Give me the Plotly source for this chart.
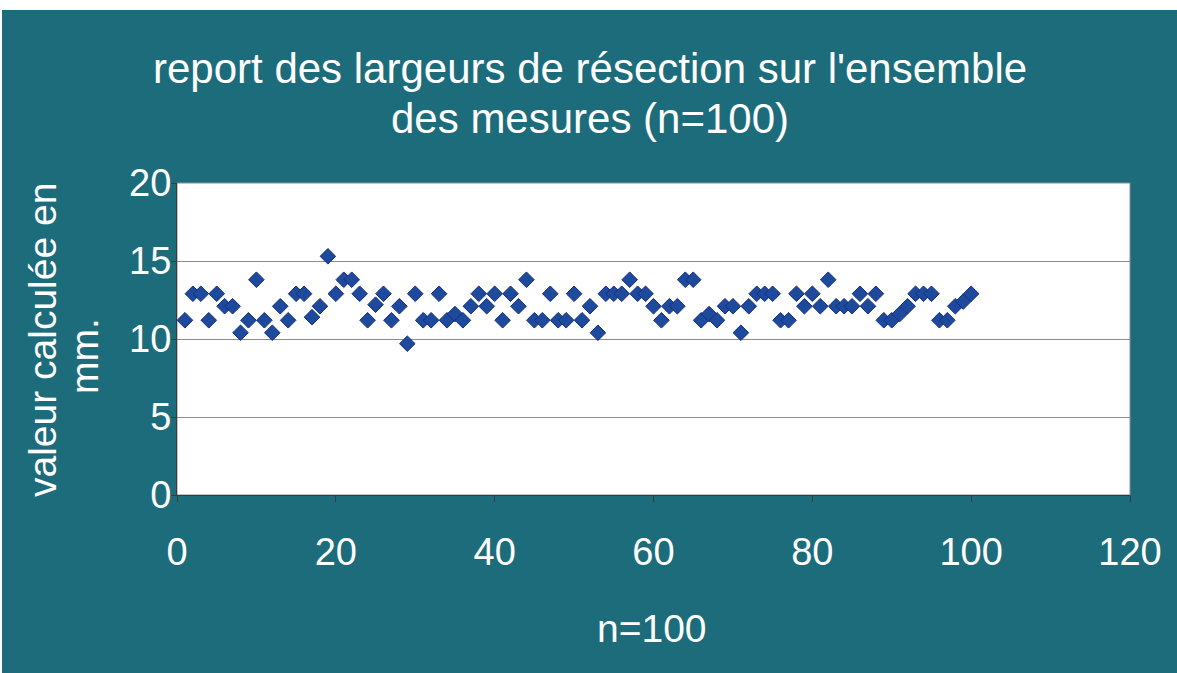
import plotly.graph_objects as go

# Measurement index and computed resection width (mm)
n_index = list(range(1, 101))
largeur_mm = [
    11.2, 12.9, 12.9, 11.2, 12.9, 12.1, 12.1, 10.4, 11.2, 13.8,
    11.2, 10.4, 12.1, 11.2, 12.9, 12.9, 11.4, 12.1, 15.3, 12.9,
    13.8, 13.8, 12.9, 11.2, 12.2, 12.9, 11.2, 12.1, 9.7, 12.9,
    11.2, 11.2, 12.9, 11.2, 11.6, 11.2, 12.1, 12.9, 12.1, 12.9,
    11.2, 12.9, 12.1, 13.8, 11.2, 11.2, 12.9, 11.2, 11.2, 12.9,
    11.2, 12.1, 10.4, 12.9, 12.9, 12.9, 13.8, 12.9, 12.9, 12.1,
    11.2, 12.1, 12.1, 13.8, 13.8, 11.2, 11.6, 11.2, 12.1, 12.1,
    10.4, 12.1, 12.9, 12.9, 12.9, 11.2, 11.2, 12.9, 12.1, 12.9,
    12.1, 13.8, 12.1, 12.1, 12.1, 12.9, 12.1, 12.9, 11.2, 11.2,
    11.6, 12.1, 12.9, 12.9, 12.9, 11.2, 11.2, 12.1, 12.4, 12.9,
]
x_ticks = [0, 20, 40, 60, 80, 100, 120]
y_ticks = [0, 5, 10, 15, 20]

title_lines = ["report des largeurs de résection sur l'ensemble", "des mesures (n=100)"]
y_title_lines = ["valeur calculée en", "mm."]
x_title = "n=100"

TEAL = "#1C6C7B"
FONT = "Liberation Sans, Arial, sans-serif"

fig = go.Figure()
fig.add_trace(go.Scatter(
    x=n_index, y=largeur_mm, mode="markers",
    marker=dict(symbol="diamond", size=12, color="#1E4A9E",
                line=dict(color="#152F7C", width=1)),
    showlegend=False, hoverinfo="x+y",
))

L, R, T, B = 177, 47, 183, 178
W, H = 1177, 673
pw, ph = W - L - R, H - T - B


def px_x(px):
    return (px - L) / pw


def px_y(py):
    return (H - B - py) / ph


annotations = [
    dict(text=title_lines[0], x=px_x(590), y=px_y(69)),
    dict(text=title_lines[1], x=px_x(590), y=px_y(118)),
]
for a in annotations:
    a.update(xref="paper", yref="paper", xanchor="center", yanchor="middle",
             showarrow=False, font=dict(size=42, color="white", family=FONT))

annotations += [
    dict(text=y_title_lines[0], x=px_x(42), y=px_y(340), textangle=-90),
    dict(text=y_title_lines[1], x=px_x(84), y=px_y(356), textangle=-90),
    dict(text=x_title, x=px_x(652), y=px_y(628)),
]
for a in annotations[2:]:
    a.update(xref="paper", yref="paper", xanchor="center", yanchor="middle",
             showarrow=False, font=dict(size=39, color="white", family=FONT))

fig.update_layout(
    width=W, height=H,
    margin=dict(l=L, r=R, t=T, b=B, pad=0),
    paper_bgcolor="white",
    plot_bgcolor="white",
    font=dict(family=FONT, color="white", size=38),
    shapes=[
        # teal chart background
        dict(type="rect", xref="paper", yref="paper", layer="below",
             x0=(2 - L) / pw, x1=(W - L + 5) / pw,
             y0=-(B + 5) / ph, y1=(H - B - 10) / ph,
             fillcolor=TEAL, line=dict(width=0)),
        # white plot area
        dict(type="rect", xref="paper", yref="paper", layer="below",
             x0=0, x1=1, y0=0, y1=1,
             fillcolor="white", line=dict(color="#8C8C8C", width=1)),
    ],
    annotations=annotations,
)

fig.update_xaxes(
    range=[0, 120], tickvals=x_ticks, ticktext=[str(v) for v in x_ticks],
    showgrid=False, zeroline=False,
    showline=True, linecolor="#3A3A3A", linewidth=1,
    ticks="outside", ticklen=6, tickcolor="#3A3A3A",
    ticklabelstandoff=17,
    tickfont=dict(size=38, color="white", family=FONT),
)
fig.update_yaxes(
    range=[0, 20], tickvals=y_ticks, ticktext=[str(v) for v in y_ticks],
    showgrid=True, gridcolor="#8C8C8C", gridwidth=1, zeroline=False,
    showline=True, linecolor="#3A3A3A", linewidth=1,
    ticks="outside", ticklen=5, tickcolor="#3A3A3A",
    ticklabelstandoff=-8,
    tickfont=dict(size=38, color="white", family=FONT),
)

fig.write_html("out.html")
